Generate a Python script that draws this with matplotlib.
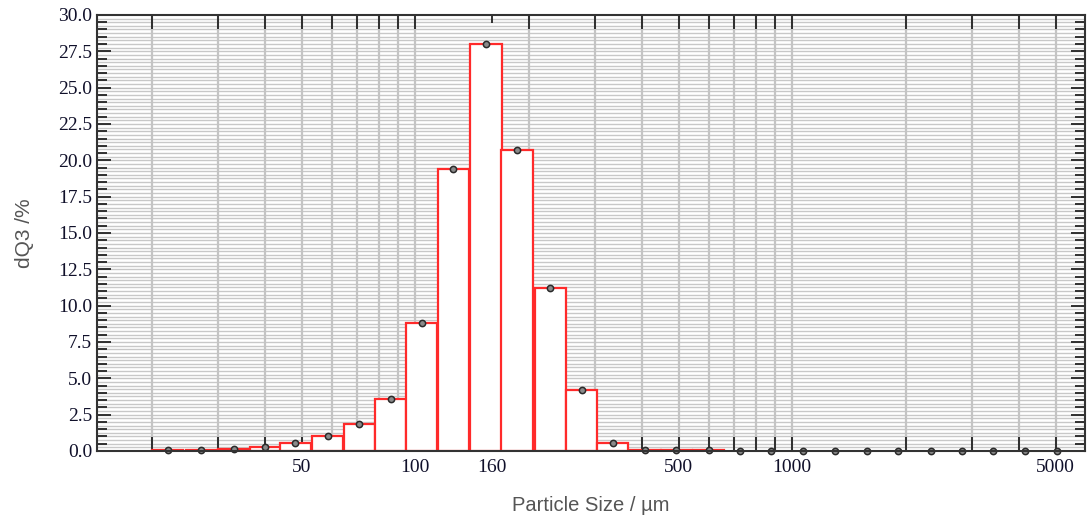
import numpy as np
import matplotlib
matplotlib.use("Agg")
import matplotlib.pyplot as plt
from matplotlib.ticker import FixedLocator, LogLocator, MultipleLocator, NullFormatter, FixedFormatter

# Bin centres (µm)
sizes = [22, 27, 33, 40, 48, 58.5, 71, 86, 104, 126, 154, 186, 228, 276, 334,
         407, 492, 600, 728, 878, 1067, 1300, 1578, 1906, 2332, 2818, 3406, 4150, 5035]
# dQ3 values (%)
dq3 = [0.05, 0.1, 0.15, 0.3, 0.55, 1.0, 1.85, 3.55, 8.8, 19.4, 28.0, 20.7, 11.2, 4.2, 0.55,
       0.05, 0.05, 0.05, 0, 0, 0, 0, 0, 0, 0, 0, 0, 0, 0]
n_bars = 18  # bins drawn as red bars

xtick_vals = [50, 100, 160, 500, 1000, 5000]
xtick_labels = ["50", "100", "160", "500", "1000", "5000"]
ytick_vals = [0, 2.5, 5, 7.5, 10, 12.5, 15, 17.5, 20, 22.5, 25, 27.5, 30]

fig = plt.figure(figsize=(10.88, 5.16), dpi=100)
ax = fig.add_axes([0.0892, 0.126, 0.908, 0.845])
ax.set_xscale("log")
ax.set_xlim(14.3, 5980)
ax.set_ylim(0, 30)

# horizontal fine grid
for yv in np.arange(0.25, 30, 0.25):
    ax.axhline(yv, color="#c8c8c8", lw=1.0, zorder=0)

# bars: edges at geometric midpoints between centres
c = np.array(sizes, dtype=float)
lc = np.log10(c)
half = np.diff(lc).mean() / 2 * 0.98
left = 10 ** (lc - half)
right = 10 ** (lc + half)
ax.bar(left[:n_bars], dq3[:n_bars], width=(right - left)[:n_bars], align="edge",
       facecolor="white", edgecolor="#ff2a2a", linewidth=1.6, zorder=3)

ax.plot(sizes, dq3, linestyle="none", marker="o", markersize=4.5,
        markerfacecolor="#8a8a8a", markeredgecolor="#2a2a2a", markeredgewidth=1.1,
        zorder=5, clip_on=False)

# ticks
ax.xaxis.remove_overlapping_locs = False
ax.xaxis.set_major_locator(FixedLocator(xtick_vals))
ax.xaxis.set_major_formatter(FixedFormatter(xtick_labels))
ax.xaxis.set_minor_locator(LogLocator(base=10, subs=np.arange(1, 10), numticks=50))
ax.xaxis.set_minor_formatter(NullFormatter())
ax.grid(which="minor", axis="x", color="#c4c4c4", lw=1.6, zorder=1)
ax.yaxis.set_major_locator(FixedLocator(ytick_vals))
ax.yaxis.set_minor_locator(MultipleLocator(0.5))
ax.set_yticklabels([f"{v:.1f}" for v in ytick_vals])

ax.tick_params(which="both", direction="in", top=True, right=True, color="#222222", width=1.3)
ax.tick_params(which="major", length=10)
ax.tick_params(which="minor", length=7)
ax.tick_params(axis="x", which="major", length=6, pad=6)
ax.tick_params(axis="x", which="minor", length=10)

for lab in ax.get_xticklabels() + ax.get_yticklabels():
    lab.set_fontfamily("Liberation Serif")
    lab.set_fontsize(14)
    lab.set_color("#10102a")

for sp in ax.spines.values():
    sp.set_color("#333333")
    sp.set_linewidth(1.5)
    sp.set_zorder(6)

ax.set_xlabel("Particle Size / µm", fontfamily="Liberation Sans", fontsize=14.5,
              color="#555555", labelpad=14)
ax.set_ylabel("dQ3 /%", fontfamily="Liberation Sans", fontsize=15,
              color="#555555", labelpad=17)

fig.savefig("out.png", dpi=100)
